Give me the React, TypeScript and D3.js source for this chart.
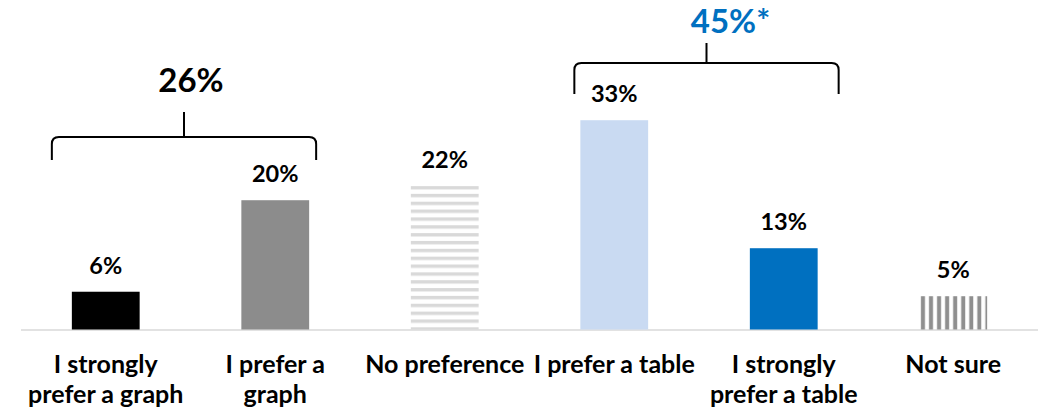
import React from "react";
import * as d3 from "d3";

const categories = [
  "I strongly prefer a graph",
  "I prefer a graph",
  "No preference",
  "I prefer a table",
  "I strongly prefer a table",
  "Not sure",
];
const categoryLines = [
  ["I strongly", "prefer a graph"],
  ["I prefer a", "graph"],
  ["No preference"],
  ["I prefer a table"],
  ["I strongly", "prefer a table"],
  ["Not sure"],
];
const values = [5.9, 20.2, 22.4, 32.7, 12.7, 5.2];
const fills = ["#000000", "#8c8c8c", "url(#hstripe)", "#c9daf2", "#0070c0", "url(#vstripe)"];
const groupLabels = ["26%", "45%*"];
const groupColors = ["#000000", "#0070c0"];
const groupMembers = [
  [0, 1],
  [3, 4],
];

const W = 1043;
const H = 413;
const FONT = "Lato, 'Open Sans', sans-serif";
// layout of brackets (pixels)
const bracketLayout = [
  { padL: 20, padR: 7, barY: 137, sideY: 160, stemY: 112, textY: 92, textDx: 7 },
  { padL: 6, padR: 21, barY: 63, sideY: 94, stemY: 43, textY: 33, textDx: 24 },
];

export default function App() {
  const x = d3
    .scaleBand<string>()
    .domain(categories)
    .range([21, 1038])
    .paddingInner(0.6)
    .paddingOuter(0.3);
  const y = d3.scaleLinear().domain([0, 50]).range([329.5, 329.5 - 320]);
  const fmt = (v: number) => d3.format(".0f")(v) + "%";
  const bw = x.bandwidth();
  const cx = (i: number) => (x(categories[i]) as number) + bw / 2;

  const bracketPath = (l: number, r: number, by: number, sy: number) => {
    const rr = 7;
    const p = d3.path();
    p.moveTo(l, sy);
    p.lineTo(l, by + rr);
    p.quadraticCurveTo(l, by, l + rr, by);
    p.lineTo(r - rr, by);
    p.quadraticCurveTo(r, by, r, by + rr);
    p.lineTo(r, sy);
    return p.toString();
  };

  return (
    <svg
      width={W}
      height={H}
      style={{ position: "absolute", left: 0, top: 0, background: "#fff" }}
      fontFamily={FONT}
    >
      <defs>
        <pattern id="hstripe" patternUnits="userSpaceOnUse" width={8} height={7.85} y={186}>
          <rect x={0} y={0} width={8} height={3.4} fill="#d9d9d9" />
        </pattern>
        <pattern
          id="vstripe"
          patternUnits="userSpaceOnUse"
          width={8.05}
          height={10}
          x={x(categories[5]) as number}
        >
          <rect x={1.6} y={0} width={4} height={10} fill="#8f8f8f" />
        </pattern>
      </defs>
      <line x1={21} x2={1038} y1={330} y2={330} stroke="#d9d9d9" strokeWidth={1.5} />
      {values.map((v, i) => (
        <rect
          key={i}
          x={x(categories[i])}
          y={y(v)}
          width={bw}
          height={y(0) - y(v)}
          fill={fills[i]}
        />
      ))}
      {values.map((v, i) => (
        <text
          key={"v" + i}
          x={cx(i)}
          y={y(v) - 18}
          textAnchor="middle"
          fontWeight="bold"
          fontSize={23.5}
          fill="#000"
        >
          {fmt(v)}
        </text>
      ))}
      {categoryLines.map((lines, i) => (
        <text
          key={"c" + i}
          x={cx(i)}
          y={373}
          textAnchor="middle"
          fontWeight="bold"
          fontSize={25}
          fill="#000"
        >
          {lines.map((ln, j) => (
            <tspan key={j} x={cx(i)} dy={j === 0 ? 0 : 30}>
              {ln}
            </tspan>
          ))}
        </text>
      ))}
      {groupMembers.map((m, g) => {
        const L = bracketLayout[g];
        const left = cx(m[0]) - bw / 2 - L.padL;
        const right = cx(m[m.length - 1]) + bw / 2 + L.padR;
        const mid = (left + right) / 2;
        return (
          <g key={"g" + g}>
            <path
              d={bracketPath(left, right, L.barY, L.sideY)}
              fill="none"
              stroke="#000"
              strokeWidth={2}
            />
            <line x1={mid} x2={mid} y1={L.stemY} y2={L.barY} stroke="#000" strokeWidth={2} />
            <text
              x={mid + L.textDx}
              y={L.textY}
              textAnchor="middle"
              fontWeight="bold"
              fontSize={33}
              fill={groupColors[g]}
            >
              {groupLabels[g]}
            </text>
          </g>
        );
      })}
    </svg>
  );
}
